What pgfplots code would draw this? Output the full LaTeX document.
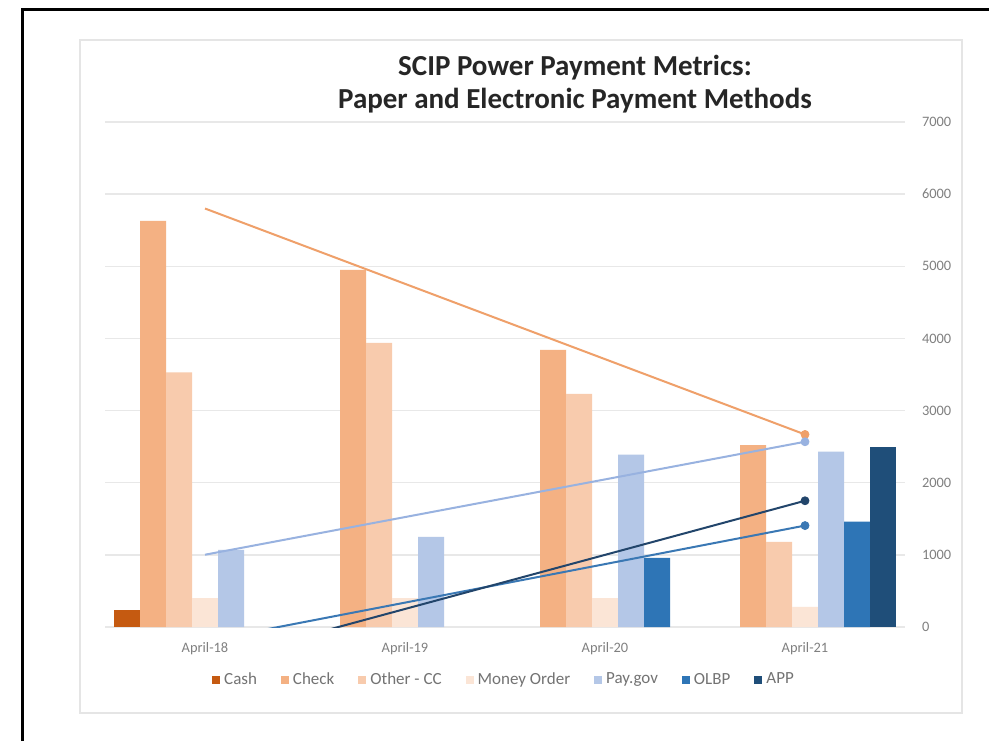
\documentclass[border=0pt]{standalone}
\usepackage{fontspec}
\setmainfont{Carlito}
\usepackage{pgfplots}
\pgfplotsset{compat=1.18}
\definecolor{cCash}{HTML}{C55A11}
\definecolor{cCheck}{HTML}{F4B183}
\definecolor{cOther}{HTML}{F8CBAD}
\definecolor{cMoney}{HTML}{FBE5D6}
\definecolor{cPay}{HTML}{B4C7E7}
\definecolor{cOLBP}{HTML}{2E75B6}
\definecolor{cAPP}{HTML}{1F4E79}
\definecolor{tCheck}{HTML}{EFA06A}
\definecolor{tPay}{HTML}{98B2E0}
\definecolor{tOLBP}{HTML}{3A78B4}
\definecolor{tAPP}{HTML}{22456B}
\begin{document}
\begin{tikzpicture}
\useasboundingbox (0,0) rectangle (494.5pt,370.5pt);
\fill[white] (0,0) rectangle (494.5pt,370.5pt);
\draw[line width=1.5pt] (11pt,0) -- (11pt,365.5pt) -- (494.5pt,365.5pt);
\draw[black!10, line width=0.8pt] (40pt,14pt) rectangle (481pt,350.5pt);
\node[align=center, font=\bfseries\fontsize{14.5}{16.5}\selectfont, text=black!85] at (287.5pt,328.5pt) {SCIP Power Payment Metrics:\\Paper and Electronic Payment Methods};
\begin{axis}[
  at={(52.5pt,57pt)}, anchor=south west,
  scale only axis, width=400pt, height=252.5pt,
  xmin=-0.5, xmax=3.5, ymin=0, ymax=7000,
  xtick={0,1,2,3}, xticklabels={April-18,April-19,April-20,April-21},
  ytick={0,1000,2000,3000,4000,5000,6000,7000},
  yticklabel pos=right,
  scaled y ticks=false,
  ymajorgrids, grid style={black!9, line width=0.7pt},
  axis line style={draw=none},
  major tick length=0pt,
  ticklabel style={font=\fontsize{7.2}{9}\selectfont, text=black!50},
  xticklabel style={yshift=-4pt},
  yticklabel style={xshift=5pt},
  /pgf/number format/.cd, 1000 sep={}, assume math mode=true, /pgfplots/.cd,
  clip=true,
  legend style={at={(0.5,-0.105)}, anchor=center, draw=none, fill=none,
    legend columns=7, font=\fontsize{8.5}{10}\selectfont, text=black!55,
    /tikz/every even column/.append style={column sep=10pt}},
  legend image code/.code={\fill[#1] (0pt,-2pt) rectangle (4pt,2pt);},
]
\addplot[ybar, bar width=13pt, bar shift=-39pt, fill=cCash, draw=none] coordinates {(0,230)};
\addlegendentry{Cash}
\addplot[ybar, bar width=13pt, bar shift=-26pt, fill=cCheck, draw=none] coordinates {(0,5630) (1,4950) (2,3840) (3,2520)};
\addlegendentry{Check}
\addplot[ybar, bar width=13pt, bar shift=-13pt, fill=cOther, draw=none] coordinates {(0,3530) (1,3940) (2,3230) (3,1180)};
\addlegendentry{Other - CC}
\addplot[ybar, bar width=13pt, bar shift=0pt, fill=cMoney, draw=none] coordinates {(0,400) (1,400) (2,400) (3,280)};
\addlegendentry{Money Order}
\addplot[ybar, bar width=13pt, bar shift=13pt, fill=cPay, draw=none] coordinates {(0,1070) (1,1250) (2,2390) (3,2430)};
\addlegendentry{Pay.gov}
\addplot[ybar, bar width=13pt, bar shift=26pt, fill=cOLBP, draw=none] coordinates {(2,960) (3,1460)};
\addlegendentry{OLBP}
\addplot[ybar, bar width=13pt, bar shift=39pt, fill=cAPP, draw=none] coordinates {(3,2500)};
\addlegendentry{APP}
% linear trendlines
\addplot[tCheck, line width=1pt, no markers, forget plot] coordinates {(0,5801) (3,2669)};
\addplot[tPay, line width=1pt, no markers, forget plot] coordinates {(0,1002) (3,2568)};
\addplot[tOLBP, line width=1pt, no markers, forget plot] coordinates {(0,-196) (3,1406)};
\addplot[tAPP, line width=1pt, no markers, forget plot] coordinates {(0,-500) (3,1750)};
% trendline end marks
\addplot[only marks, mark=*, mark size=2pt, tCheck, forget plot] coordinates {(3,2669)};
\addplot[only marks, mark=*, mark size=2pt, tPay, forget plot] coordinates {(3,2568)};
\addplot[only marks, mark=*, mark size=2pt, tOLBP, forget plot] coordinates {(3,1406)};
\addplot[only marks, mark=*, mark size=2pt, tAPP, forget plot] coordinates {(3,1750)};
\end{axis}
\end{tikzpicture}
\end{document}
